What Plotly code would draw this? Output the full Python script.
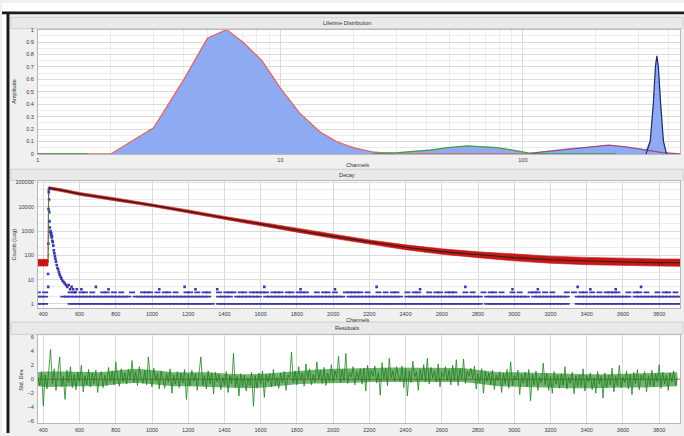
import plotly.graph_objects as go

W, H = 684, 436

# ---- Lifetime distribution (amplitude vs channel, log x) ----
lt_fill_x = [1, 2.0, 3.0, 4.0, 5.0, 6.0, 7.0, 8.4, 10, 12, 14.5, 17, 20, 24, 30, 40, 50, 60,
             75, 95, 107, 130, 160, 190, 226, 270, 300, 322, 335, 345, 352, 357, 362, 370,
             380, 391, 420, 445]
lt_fill_y = [0, 0, 0.21, 0.60, 0.93, 1.0, 0.90, 0.75, 0.53, 0.33, 0.18, 0.10, 0.05, 0.02,
             0.01, 0.035, 0.055, 0.065, 0.055, 0.025, 0.01, 0.03, 0.05, 0.06, 0.07, 0.055,
             0.045, 0.035, 0.12, 0.42, 0.72, 0.79, 0.72, 0.42, 0.11, 0.01, 0.005, 0]

comp1_x = [1, 1.6, 2.0, 3.0, 4.0, 5.0, 6.0, 7.0, 8.4, 10, 12, 14.5, 17, 20, 24, 30, 42, 107, 125]
comp1_y = [0, 0, 0, 0.21, 0.60, 0.93, 1.0, 0.90, 0.75, 0.53, 0.33, 0.18, 0.10, 0.05, 0.015, 0, 0, 0, 0]

comp2_x = [1, 1.6, None, 24, 30.5, 41.5, 48.8, 58.9, 78, 94.5, 107, 125, 243]
comp2_y = [0, 0, None, 0, 0.01, 0.03, 0.05, 0.065, 0.05, 0.025, 0.005, 0, 0]

comp3_x = [107, 146, 188, 226, 271, 322, 375, 445]
comp3_y = [0.005, 0.03, 0.055, 0.07, 0.055, 0.03, 0.01, 0]

comp4_x = [322, 335, 345, 352, 357, 362, 370, 380, 391]
comp4_y = [0, 0.1, 0.4, 0.7, 0.79, 0.7, 0.4, 0.1, 0]

# ---- Decay (counts, log y) ----
dec_ch = [370, 426, 429, 433, 500, 600, 800, 1000, 1200, 1400, 1600, 1800, 2000, 2200,
          2400, 2600, 2800, 3000, 3200, 3400, 3600, 3800, 3915]
dec_hi = [68, 68, 66000, 66000, 55000, 39000, 23000, 13400, 7400, 4000, 2280, 1260, 720,
          430, 270, 185, 140, 110, 92, 82, 75, 71, 70]
dec_lo = [36, 36, 52000, 52000, 42000, 29500, 17400, 10200, 5500, 2950, 1660, 900, 500,
          285, 170, 110, 80, 59, 47, 41, 38, 36, 35]

fit_ch = [431, 500, 600, 800, 1000, 1200, 1400, 1600, 1800, 2000, 2200, 2400, 2600, 2800,
          3000, 3200, 3400, 3600, 3800, 3915]
fit_val = [60000, 47000, 34000, 19800, 11700, 6350, 3450, 1920, 1070, 600, 350, 215, 142,
           105, 80, 66, 58, 53, 50, 49]
rise_ch = [428, 430]
rise_val = [50, 50000]

irf_peak_ch = [426, 427, 428, 429, 430, 431, 432, 433, 434, 436, 438, 440, 442, 444, 446,
               448, 450, 452, 455, 458, 461, 464, 467, 470, 474, 478, 482, 486, 490, 495,
               500, 506, 512, 518, 525, 532, 540, 548, 556, 565, 575, 585]
irf_peak_cnt = [17, 5, 300, 8000, 40000, 52000, 20000, 6000, 2500, 1400, 900, 1000, 700,
                800, 550, 600, 400, 350, 250, 160, 120, 90, 70, 55, 40, 30, 26, 20, 16, 13,
                11, 9, 8, 7, 6, 5, 6, 4, 5, 4, 3, 4]

# low-count IRF rows, one char per 20-channel bin starting at channel 370
irf_bin_start, irf_bin_width = 370, 20
irf_row1 = ("###......#" "##########" "##########" "##########" "#########."
            "##########" "##########" "##########" "##########" "##########"
            "##########" "##########" "###.######" "##########" "#######..#"
            "##########" "##########" "########")
irf_row2 = ("###....###" "##########" "######.###" "##########" "########.."
            "####.#####" "##.#######" "##########" "#####.####" "##########"
            "#.########" "##########" "###.######" "######.###" "#######..#"
            "##########" "####.#####" "########")
irf_row3 = ("#.#......#" "#.##.#..##" ".#.#..#..#" "##.#.##.#." ".##.#.##.."
            "#.###.##.#" "####.###.#" "#.###..#.#" "#.#..#####" ".#..#.#.##"
            "..#.##..#." "##.###..#." "#..#.##.#." ".#.#..###." "#.#...#.#."
            "##.#.#.###" "#..#.##.#." ".#.##.#.")
irf_hi_ch = [610, 690, 760, 1040, 1180, 1240, 1360, 1620, 1820, 2010, 2240, 2480, 2730,
             2990, 3130, 3350, 3420, 3560, 3700]
irf_hi_cnt = [4, 5, 4, 4, 5, 4, 4, 5, 4, 4, 5, 4, 5, 4, 4, 5, 4, 4, 5]

# ---- Residuals (std. dev.), every 10 channels from 370 ----
res_start, res_step = 370, 10
res_val = [
    0.3, -0.9, 1.1, -3.8, 0.6, -1.4, 1.2, 4.3, -0.7, 1.5,
    -1.6, 0.8, 3.2, -1.1, 0.4, -2.9, 1.3, -0.5, 1.8, -1.2,
    0.7, -1.5, 1.0, -0.3, 2.0, -1.8, 0.5, -0.8, 1.4, -1.1,
    0.9, -0.6, 1.3, -1.9, 0.4, 1.1, -1.2, 0.6, -0.9, 1.7,
    -0.4, 1.2, -0.8, 2.5, 0.1, -1.0, 1.5, -0.3, 0.9, -0.7,
    1.4, 0.0, 2.7, -0.5, 1.1, -0.9, 1.8, 0.2, -0.6, 1.3,
    -0.8, 3.2, 0.4, -1.1, 1.6, -0.2, 0.9, -1.4, 1.2, 0.1,
    -1.3, 0.8, -0.4, 1.5, -2.0, 0.6, -0.7, 1.1, -1.2, 0.9,
    -0.5, 1.4, -2.9, 0.7, -1.0, 1.3, -0.3, 0.8, -1.6, 1.0,
    3.2, -0.9, 0.5, -1.4, 1.2, -0.6, 0.9, -2.1, 1.0, -0.4,
    0.7, -1.5, 0.3, -0.8, 1.1, -1.9, 0.5, -0.6, 3.7, -1.2,
    0.4, -2.4, 0.8, -1.1, 0.6, -1.7, 0.2, -0.9, 1.0, -3.9,
    0.5, -1.3, 0.9, -0.6, 1.2, -2.6, 0.7, -0.4, 0.8, -1.1,
    1.4, -0.9, 0.3, -1.3, 0.9, -0.5, 1.1, -1.6, 0.6, 0.2,
    3.9, -0.5, 1.2, -0.8, 1.8, -0.2, 0.9, -1.0, 2.2, 0.1,
    1.5, -0.8, 0.7, -0.4, 2.5, 0.0, 1.3, -0.6, 1.7, -0.9,
    0.9, -0.3, 2.1, -0.4, 1.2, 0.2, 3.3, -0.5, 1.4, -0.2,
    3.7, -0.6, 1.0, 0.3, 1.8, -0.8, 1.1, 0.0, 1.5, -0.7,
    1.6, -1.7, 2.0, -0.2, 1.3, 0.4, 1.9, -0.5, 1.0, -2.3,
    2.4, 0.1, 1.6, -0.9, 3.0, 0.2, 1.2, -0.3, 1.8, 0.5,
    -0.3, 1.9, -1.2, 1.5, -2.4, 1.2, -0.5, 2.6, 0.3, 1.1,
    -1.6, 1.4, 0.0, 2.1, -0.4, 3.0, -0.7, 1.7, 0.2, 1.2,
    -0.4, 2.2, -1.1, 1.0, 0.3, 1.8, -0.2, 1.3, -0.8, 2.0,
    -0.2, 2.8, -0.9, 1.5, 0.1, 2.9, -0.6, 1.2, 0.4, 1.6,
    0.1, 1.9, -1.4, 0.8, -0.5, 1.5, -2.0, 1.2, -0.3, 0.9,
    -0.8, 1.3, -1.5, 0.6, -0.2, 1.1, -1.9, 0.9, -0.6, 1.4,
    -1.3, 2.5, -0.9, 0.5, -0.1, 1.3, -2.2, 0.7, -0.6, 1.0,
    -1.1, 1.4, -3.1, 0.7, -0.8, 1.2, -1.6, 0.3, -0.5, 2.3,
    -0.8, 0.9, -1.6, 0.4, -2.0, 1.1, -0.7, 0.6, -1.3, 0.8,
    -0.9, 1.8, -1.4, 0.3, -0.6, 1.0, -2.1, 0.5, -1.1, 0.7,
    -1.0, 1.5, -1.7, 0.5, -0.4, 0.9, -1.5, 0.2, -2.0, 1.1,
    -0.6, 0.4, -2.7, 0.9, -1.2, 0.6, -0.8, 1.6, -1.8, 0.4,
    -0.9, 2.0, -1.2, 0.3, -0.5, 1.2, -1.4, 0.7, -2.2, 1.0,
    -0.6, 1.4, -1.5, 0.6, -0.2, 1.1, -1.8, 0.5, -0.9, 1.3,
    -1.1, 0.8, -0.4, 2.1, -1.3, 1.0, -0.7, 0.6, -1.6, 0.9,
    -0.4, 1.2, -0.9, 0.3,
]
# dense core of the residual trace (where most channels fall), per 100 channels
res_core_ch = [370, 415, 515, 615, 715, 815, 915, 1015, 1115, 1215, 1315, 1415, 1515, 1615,
               1715, 1815, 1915, 2015, 2115, 2215, 2315, 2415, 2515, 2615, 2715, 2815, 2915,
               3015, 3115, 3215, 3315, 3415, 3515, 3615, 3715, 3815, 3900]
res_core_hi = [1.0, 1.1, 1.1, 1.0, 1.0, 1.3, 1.5, 1.3, 1.0, 1.0, 1.0, 0.8, 0.7, 0.8, 1.0,
               1.3, 1.4, 1.5, 1.5, 1.6, 1.7, 1.7, 1.6, 1.6, 1.6, 1.3, 1.0, 1.0, 0.9, 0.8,
               0.7, 0.7, 0.7, 0.8, 0.8, 0.9, 1.0]
res_core_lo = [-1.0, -1.1, -1.1, -1.0, -1.0, -0.7, -0.5, -0.7, -1.0, -1.0, -1.0, -1.2, -1.3,
               -1.2, -1.0, -0.7, -0.6, -0.5, -0.5, -0.4, -0.3, -0.3, -0.4, -0.4, -0.4, -0.7,
               -1.0, -1.0, -1.1, -1.2, -1.3, -1.3, -1.3, -1.2, -1.2, -1.1, -1.0]
res_zero_ch = [370, 3915]
res_zero_val = [0, 0]

X_RANGE = [370, 3915]
FONT = "Liberation Sans, Arial, sans-serif"
TICKF = dict(size=5.5, color="#3a3a3a", family=FONT)


def decode(pattern):
    return [irf_bin_start + irf_bin_width * i for i, c in enumerate(pattern) if c == "#"]


def px(x):
    return x / W


def py(y):
    return 1 - y / H


fig = go.Figure()

# lifetime distribution
fig.add_trace(go.Scatter(x=lt_fill_x, y=lt_fill_y, mode="lines", fill="tozeroy",
                         fillcolor="#8eaaf2", line=dict(width=0), xaxis="x", yaxis="y"))
fig.add_trace(go.Scatter(x=comp1_x, y=comp1_y, mode="lines", line=dict(color="#e0645e", width=1.2),
                         xaxis="x", yaxis="y"))
fig.add_trace(go.Scatter(x=comp2_x, y=comp2_y, mode="lines", line=dict(color="#3f9f45", width=1.2),
                         xaxis="x", yaxis="y"))
fig.add_trace(go.Scatter(x=comp3_x, y=comp3_y, mode="lines", line=dict(color="#9a4a78", width=1.2),
                         xaxis="x", yaxis="y"))
fig.add_trace(go.Scatter(x=comp4_x, y=comp4_y, mode="lines", line=dict(color="#1c2a66", width=1.2),
                         xaxis="x", yaxis="y"))

# decay
fig.add_trace(go.Scatter(x=dec_ch + dec_ch[::-1], y=dec_hi + dec_lo[::-1], mode="lines",
                         fill="toself", fillcolor="#c81616", line=dict(color="#c81616", width=0.6),
                         xaxis="x2", yaxis="y2"))
row_mk = dict(symbol="line-ew", size=4.2, line=dict(width=1.8, color="#3a3aa8"))
for row, cnt in ((irf_row1, 1), (irf_row2, 2), (irf_row3, 3)):
    chs = decode(row)
    fig.add_trace(go.Scatter(x=chs, y=[cnt] * len(chs), mode="markers", marker=row_mk,
                             xaxis="x2", yaxis="y2"))
irf_mk = dict(color="#3a3aa8", symbol="square", size=2.6, line=dict(width=0))
fig.add_trace(go.Scatter(x=irf_hi_ch, y=irf_hi_cnt, mode="markers", marker=irf_mk,
                         xaxis="x2", yaxis="y2"))
fig.add_trace(go.Scatter(x=irf_peak_ch, y=irf_peak_cnt, mode="markers", marker=irf_mk,
                         xaxis="x2", yaxis="y2"))
fig.add_trace(go.Scatter(x=rise_ch, y=rise_val, mode="lines",
                         line=dict(color="#2e9a2e", width=1.2, dash="dot"), xaxis="x2", yaxis="y2"))
fig.add_trace(go.Scatter(x=fit_ch, y=fit_val, mode="lines", line=dict(color="#2a2218", width=1.1),
                         xaxis="x2", yaxis="y2"))

# residuals
res_ch = [res_start + res_step * i for i in range(len(res_val))]
fig.add_trace(go.Scatter(x=res_zero_ch, y=res_zero_val, mode="lines",
                         line=dict(color="#e06030", width=1), xaxis="x3", yaxis="y3"))
fig.add_trace(go.Scatter(x=res_core_ch + res_core_ch[::-1], y=res_core_hi + res_core_lo[::-1],
                         mode="lines", fill="toself", fillcolor="rgba(24,125,24,0.6)",
                         line=dict(width=0), xaxis="x3", yaxis="y3"))
fig.add_trace(go.Scatter(x=res_ch, y=res_val, mode="lines",
                         line=dict(color="rgba(22,128,22,0.85)", width=0.9),
                         xaxis="x3", yaxis="y3"))

grid = "#dadada"
minor_grid = "#ececec"
xdom = [px(36), px(680)]
common = dict(showline=True, linecolor="#b8b8b8", mirror=True, ticks="", tickfont=TICKF,
              zeroline=False, gridcolor=grid, gridwidth=1)

lt_minor = [2, 3, 4, 5, 6, 7, 8, 9, 20, 30, 40, 50, 60, 70, 80, 90, 200, 300, 400]
dec_minor = [2, 5, 20, 50, 200, 500, 2000, 5000, 20000, 50000]
ch_ticks = list(range(400, 3801, 200))

fig.update_layout(
    width=W, height=H, margin=dict(l=0, r=0, t=0, b=0),
    paper_bgcolor="#f0f0f0", plot_bgcolor="#ffffff", showlegend=False,
    font=dict(family=FONT, size=5.5, color="#3a3a3a"),
    xaxis=dict(common, type="log", range=[0, 2.648], domain=xdom, anchor="y",
               tickvals=[1, 10, 100], ticktext=["1", "10", "100"], ticklabelstandoff=1,
               minor=dict(tickvals=lt_minor, showgrid=True, gridcolor=minor_grid)),
    yaxis=dict(common, range=[0, 1.0], domain=[py(153), py(27)], anchor="x",
               tickvals=[i / 10 for i in range(11)],
               ticktext=["0", "0.1", "0.2", "0.3", "0.4", "0.5", "0.6", "0.7", "0.8", "0.9", "1"],
               ticklabelstandoff=2,
               minor=dict(dtick=0.05, showgrid=True, gridcolor=minor_grid)),
    xaxis2=dict(common, range=X_RANGE, domain=xdom, anchor="y2", tickvals=ch_ticks,
                ticklabelstandoff=1),
    yaxis2=dict(common, type="log", range=[-0.16, 5.08], domain=[py(309), py(180)], anchor="x2",
                tickvals=[1, 10, 100, 1000, 10000, 100000],
                ticktext=["1", "10", "100", "1000", "10000", "100000"], ticklabelstandoff=2,
                minor=dict(tickvals=dec_minor, showgrid=True, gridcolor=minor_grid)),
    xaxis3=dict(common, range=X_RANGE, domain=xdom, anchor="y3", tickvals=ch_ticks,
                ticklabelstandoff=1),
    yaxis3=dict(common, range=[-6.3, 6.3], domain=[py(426), py(337)], anchor="x3",
                tickvals=[-6, -4, -2, 0, 2, 4, 6], showgrid=False, ticklabelstandoff=2),
)

shapes = [
    # window chrome
    dict(type="rect", xref="paper", yref="paper", x0=0, x1=1, y0=py(9), y1=1,
         fillcolor="#ffffff", line=dict(width=0), layer="below"),
    dict(type="rect", xref="paper", yref="paper", x0=0, x1=px(5), y0=0, y1=1,
         fillcolor="#ffffff", line=dict(width=0), layer="below"),
    dict(type="rect", xref="paper", yref="paper", x0=0, x1=1, y0=py(11.5), y1=py(8.5),
         fillcolor="#1c1c1c", line=dict(width=0), layer="above"),
    dict(type="rect", xref="paper", yref="paper", x0=px(4.5), x1=px(7.5), y0=0, y1=py(9),
         fillcolor="#1c1c1c", line=dict(width=0), layer="above"),
]
# panel separators / title strips
for top, bottom in ((14.5, 26), (168.5, 180), (323.5, 336)):
    shapes.append(dict(type="rect", xref="paper", yref="paper", x0=px(9), x1=px(683),
                       y0=py(bottom), y1=py(top), fillcolor="#e9e9e9",
                       line=dict(color="#cfcfcf", width=1), layer="below"))
fig.update_layout(shapes=shapes)

ann = [
    ("Lifetime Distribution", 346, 20, 0),
    ("Decay", 346, 174.5, 0),
    ("Residuals", 346, 329.5, 0),
    ("Channels", 357, 164, 0),
    ("Channels", 357, 321, 0),
    ("Amplitude", 12, 90, -90),
    ("Counts (Log)", 12, 245, -90),
    ("Std. Dev.", 19, 381, -90),
]
fig.update_layout(annotations=[
    dict(text=t, x=px(x), y=py(y), xref="paper", yref="paper", showarrow=False,
         textangle=a, font=dict(size=5.5, color="#333333", family=FONT),
         xanchor="center", yanchor="middle")
    for t, x, y, a in ann
])

# the page body gets the browser's default 8px margin otherwise
fig.write_html("out.html", config={"displayModeBar": False},
               post_script="document.body.style.margin='0';")
